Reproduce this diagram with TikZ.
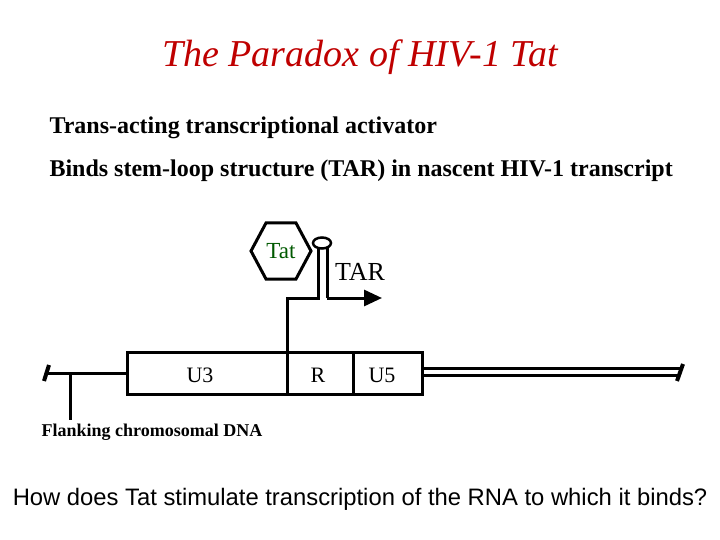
\documentclass[tikz,border=0pt]{standalone}
\usepackage{fontspec}
\setmainfont{Liberation Serif}
\newfontfamily\arial{Liberation Sans}
\usetikzlibrary{shapes.geometric,arrows.meta}
\begin{document}
\begin{tikzpicture}[x=1pt,y=-1pt,
  ln/.style={line width=3pt},
  lab/.style={font=\fontsize{22}{24}\selectfont},
  txt/.style={font=\bfseries\fontsize{24}{26}\selectfont,anchor=west}]
\useasboundingbox (0,0) rectangle (720,540);
\node[font=\itshape\fontsize{38}{42}\selectfont,text=red!75!black] (title) at (360,57) {The Paradox of HIV-1 Tat};
\node[txt] (l1) at (46,128) {Trans-acting transcriptional activator};
\node[txt] (l2) at (46,171) {Binds stem-loop structure (TAR) in nascent HIV-1 transcript};
\node[font=\arial\fontsize{23.8}{26}\selectfont] (q) at (360,499) {How does Tat stimulate transcription of the RNA to which it binds?};
% box
\draw[ln] (127,352) rectangle (422,394);
\draw[ln] (287,352) -- (287,394);
\draw[ln] (353,352) -- (353,394);
\node[lab] (u3) at (200,375) {U3};
\node[lab] (r) at (318,375) {R};
\node[lab] (u5) at (382,375) {U5};
% left flank
\coordinate (lf) at (46,373);
\draw[ln] (lf) -- (127,373);
\draw[line width=4pt] (44,381) -- (49,365);
\draw[ln] (70,373) -- (70,420);
\node[font=\bfseries\fontsize{18}{20}\selectfont] (fl) at (152,432) {Flanking chromosomal DNA};
% right double line
\draw[ln] (422,368.5) -- (680,368.5);
\draw[ln] (422,375.5) -- (680,375.5);
\draw[line width=4pt] (677,381) -- (683,364);
% promoter / transcript
\draw[ln] (287,352) -- (287,298) -- (318,298) -- (318,246);
\draw[ln] (327,246) -- (327,298);
\draw[ln,-{Triangle[length=18pt,width=16pt]}] (327,298) -- (382,298);
\draw[line width=2.5pt,fill=white] (322,243) ellipse (9 and 5.5);
\node[font=\fontsize{26}{28}\selectfont] (tar) at (360,272) {TAR};
% Tat hexagon
\draw[line width=3pt] (251,251) -- (266,223) -- (296,223) -- (311,251) -- (296,279) -- (266,279) -- cycle;
\node[font=\fontsize{23}{26}\selectfont,text=green!35!black] (tat) at (281,251) {Tat};
\end{tikzpicture}
\end{document}
